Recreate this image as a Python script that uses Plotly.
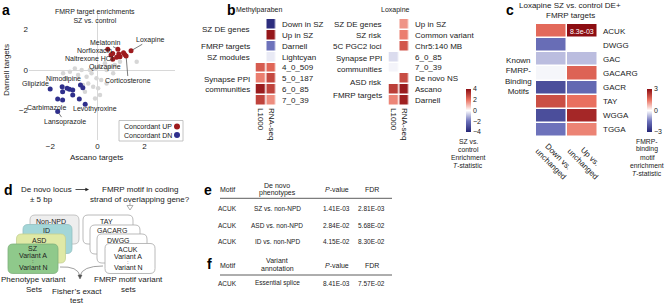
import plotly.graph_objects as go

W, H = 668, 305
FONT = "Liberation Sans, Arial, sans-serif"
INK = "#222222"


def X(p):
    return p / W


def Y(p):
    return 1 - p / H


# ---------------- Panel a data ----------------
up_x = [0.44, 0.65, 0.87, 0.91, 1.11, 1.16, 1.22, 1.43, 0.65, 0.82, 0.96, 0.58]
up_y = [1.02, 0.82, 1.03, 0.79, 0.85, 0.77, 0.69, 0.95, 0.53, 0.63, 0.66, 0.74]
dn_x = [-2.01, -1.50, -1.48, -1.29, -1.19, -1.05, -0.72, -0.62, -1.69, -1.48, -1.05, -0.77, -0.52, -1.69]
dn_y = [-0.94, -0.82, -1.07, -0.90, -0.95, -0.99, -0.74, -0.87, -1.43, -1.48, -1.23, -1.43, -1.69, -2.05]
bg_x = [-1.46, -1.17, -0.82, -0.46, -0.25, -0.04, 0.16, -0.39, -0.61, -0.18, 0.03, -0.53, 0.39, 0.53,
        0.74, 0.32, 0.96, 1.67, 0.11, -0.10, -0.32, -0.67, -0.96, -1.33, 0.39, 0.67, 0.11, -0.10]
bg_y = [-0.16, -0.08, -0.25, -0.33, -0.16, -0.41, -0.49, -0.66, -0.74, -0.82, -0.90, -1.07, 0.00, 0.16,
        0.25, 0.33, 0.41, 0.41, 0.16, 0.08, 0.00, 0.00, 0.08, -0.41, -0.66, -0.16, -1.23, -1.40]
drug_names = ["Loxapine", "Melatonin", "Norfloxacin", "Naltrexone HCl", "Quizapine", "Corticosterone",
              "Nimodipine", "Glipizide", "Carbimazole", "Levothyroxine", "Lansoprazole"]
drug_x = [1.43, 0.87, 0.44, 0.65, 0.82, 1.22, -1.50, -2.01, -1.69, -0.52, -1.69]
drug_y = [0.95, 1.03, 1.02, 0.53, 0.63, 0.69, -0.82, -0.94, -1.43, -1.69, -2.05]
a_ticks = [-2, 0, 2]

# ---------------- Panel b data ----------------
b_cols = ["L1000", "RNA-seq"]
meth_groups = ["SZ DE genes", "FMRP targets", "SZ modules", "Synapse PPI<br>communities"]
meth_rows = ["Down in SZ", "Up in SZ", "Darnell", "Lightcyan", "4_0_509", "5_0_187", "6_0_85", "7_0_39"]
meth_l1000 = [None, None, None, None, 2.4, 1.8, 3.7, 2.9]
meth_rnaseq = [-3.8, 3.8, -2.0, -0.3, 2.2, 2.8, 2.9, 1.6]
lox_groups = ["SZ DE genes", "SZ risk", "5C PGC2 loci", "Synapse PPI", "communities", "ASD risk", "FMRP targets"]
lox_rows = ["Up in SZ", "Common variant", "Chr5:140 MB", "6_0_85", "7_0_39", "De novo NS", "Ascano", "Darnell"]
lox_l1000 = [None, None, None, -0.5, -0.15, None, 3.0, 1.7]
lox_rnaseq = [1.5, 1.8, 2.5, None, None, 2.7, 3.7, 3.6]
b_cbar_ticks = [4, 2, 0, -2, -4]

# ---------------- Panel c data ----------------
c_cols = ["Down vs.<br>unchanged", "Up vs.<br>unchanged"]
c_rows = ["ACUK", "DWGG", "GAC", "GACARG", "GACR", "TAY", "WGGA", "TGGA"]
c_down = [1.6, -1.6, -0.7, -0.1, -2.2, 2.0, -2.2, -1.5]
c_up = [3.0, 0.0, -0.7, 1.7, -1.7, 1.5, 2.6, 1.3]
c_note = "8.3e-03"
c_cbar_ticks = [3, 0, -3]

# ---------------- Panel e/f data ----------------
e_header = ["Motif", "De novo<br>phenotypes", "<i>P</i>-value", "FDR"]
e_motif = ["ACUK", "ACUK", "ACUK"]
e_pheno = ["SZ vs. non-NPD", "ASD vs. non-NPD", "ID vs. non-NPD"]
e_p = ["1.41E-03", "2.84E-02", "4.15E-02"]
e_fdr = ["2.81E-03", "5.68E-02", "8.30E-02"]
f_header = ["Motif", "Variant<br>annotation", "<i>P</i>-value", "FDR"]
f_motif = ["ACUK"]
f_annot = ["Essential splice"]
f_p = ["8.41E-03"]
f_fdr = ["7.57E-02"]

RED = "#9e1b1e"
BLUE = "#2f2f8c"
CS = [[0, "#252576"], [0.25, "#6d72bb"], [0.5, "#ffffff"], [0.75, "#e9705f"], [1, "#8c0d12"]]

fig = go.Figure()

# ---- panel a traces ----
fig.add_trace(go.Scatter(x=bg_x, y=bg_y, mode="markers", xaxis="x", yaxis="y",
                         marker=dict(size=4.5, color="#d6d6d6"), hoverinfo="skip"))
fig.add_trace(go.Scatter(x=up_x, y=up_y, mode="markers", xaxis="x", yaxis="y", name="Concordant UP",
                         marker=dict(size=5, color=RED)))
fig.add_trace(go.Scatter(x=dn_x, y=dn_y, mode="markers", xaxis="x", yaxis="y", name="Concordant DN",
                         marker=dict(size=5, color=BLUE)))

# ---- panel b heatmaps ----
rows_idx = list(range(8))
fig.add_trace(go.Heatmap(z=[[a, b] for a, b in zip(meth_l1000, meth_rnaseq)], x=[0, 1], y=rows_idx,
                         xaxis="x2", yaxis="y2", coloraxis="coloraxis", xgap=1.5, ygap=1.5,
                         hoverongaps=False))
fig.add_trace(go.Heatmap(z=[[a, b] for a, b in zip(lox_l1000, lox_rnaseq)], x=[0, 1], y=rows_idx,
                         xaxis="x3", yaxis="y3", coloraxis="coloraxis", xgap=1.5, ygap=1.5,
                         hoverongaps=False))
# ---- panel c heatmap ----
fig.add_trace(go.Heatmap(z=[[a, b] for a, b in zip(c_down, c_up)], x=[0, 1], y=rows_idx,
                         xaxis="x4", yaxis="y4", coloraxis="coloraxis2", xgap=1.5, ygap=1.5))

ann = []
shapes = []


def txt(x, y, s, size=8, xa="center", ya="middle", color=INK, bold=False, angle=0, **kw):
    if bold:
        s = "<b>" + s + "</b>"
    d = dict(x=X(x), y=Y(y), xref="paper", yref="paper", text=s, showarrow=False,
             xanchor=xa, yanchor=ya, font=dict(size=size, color=color, family=FONT),
             textangle=angle, borderpad=0)
    d.update(kw)
    ann.append(d)


# panel letters
txt(1, 1, "a", 14, "left", "top", "#000", True)
txt(226, 1, "b", 14, "left", "top", "#000", True)
txt(505, 1, "c", 14, "left", "top", "#000", True)
txt(3, 181, "d", 14, "left", "top", "#000", True)
txt(203, 181, "e", 14, "left", "top", "#000", True)
txt(206, 255, "f", 14, "left", "top", "#000", True)

# ---- panel a annotations ----
txt(95, 16.5, "FMRP target enrichments<br>SZ vs. control", 7)
txt(96, 157, "Ascano targets", 8)
txt(6, 70, "Darnell targets", 8, angle=-90)

label_offsets = {  # text centre offsets in px from the point, and whether a leader line is drawn
    "Loxapine": (19, -11, True), "Melatonin": (-12.5, -6.5, True), "Norfloxacin": (-13, 1.5, False),
    "Naltrexone HCl": (-23.5, -1, False), "Quizapine": (-12, 9.5, False),
    "Corticosterone": (2, 24, True), "Nimodipine": (1, -8, False), "Glipizide": (-15, -5, False),
    "Carbimazole": (-11, 8.7, False), "Levothyroxine": (10, 5, True), "Lansoprazole": (7, 10, True),
}
for nm, dx_, dy_ in zip(drug_names, drug_x, drug_y):
    ox, oy, line = label_offsets[nm]
    if line:
        ann.append(dict(x=dx_, y=dy_, xref="x", yref="y", text=nm, showarrow=True, ax=ox, ay=oy,
                        arrowhead=0, arrowwidth=0.7, arrowcolor="#444", standoff=2, borderpad=0,
                        font=dict(size=7, color=INK, family=FONT)))
    else:
        ann.append(dict(x=dx_, y=dy_, xref="x", yref="y", text=nm, showarrow=False, xshift=ox, yshift=-oy,
                        borderpad=0, font=dict(size=7, color=INK, family=FONT)))

# legend box
shapes.append(dict(type="rect", xref="paper", yref="paper", x0=X(119), x1=X(183), y0=Y(141), y1=Y(120.5),
                   line=dict(color="#b5b5b5", width=0.8), fillcolor="white", layer="above"))
txt(122.5, 126.5, "Concordant UP", 7, "left")
txt(122.5, 135, "Concordant DN", 7, "left")
for yy, col in ((126.5, RED), (135, BLUE)):
    shapes.append(dict(type="circle", xref="paper", yref="paper", x0=X(174), x1=X(180), y0=Y(yy + 3),
                       y1=Y(yy - 3), fillcolor=col, line=dict(width=0)))

# ---- panel b annotations ----
txt(259, 10, "Methylparaben", 7)
txt(395, 10, "Loxapine", 7)
for i, r in enumerate(meth_rows):
    ann.append(dict(x=X(280), y=i, xref="paper", yref="y2", text=r, showarrow=False, xanchor="left",
                    font=dict(size=8, color=INK, family=FONT)))
for i, r in enumerate(lox_rows):
    ann.append(dict(x=X(413), y=i, xref="paper", yref="y3", text=r, showarrow=False, xanchor="left",
                    font=dict(size=8, color=INK, family=FONT)))
meth_group_y = [0.5, 2, 3, 5.5]
for g, yy in zip(meth_groups, meth_group_y):
    ann.append(dict(x=X(252), y=yy, xref="paper", yref="y2", text=g, showarrow=False, xanchor="right",
                    align="right", font=dict(size=8, color=INK, family=FONT)))
lox_group_y = [0, 1, 2, 3.15, 4.15, 5.3, 6.5]
for g, yy in zip(lox_groups, lox_group_y):
    ann.append(dict(x=X(384), y=yy, xref="paper", yref="y3", text=g, showarrow=False, xanchor="right",
                    font=dict(size=8, color=INK, family=FONT)))
for k, s in enumerate(["SZ vs.", "control", "Enrichment", "<i>T</i>-statistic"]):
    txt(468, 141 + 8.1 * k, s, 6.8)

# ---- panel c annotations ----
txt(570, 5, "Loxapine SZ vs. control DE+", 8)
txt(570, 15.5, "FMRP targets", 8)
txt(518, 75.5, "Known<br>FMRP-<br>Binding<br>Motifs", 8)
for i, r in enumerate(c_rows):
    ann.append(dict(x=X(601), y=i, xref="paper", yref="y4", text=r, showarrow=False, xanchor="left",
                    font=dict(size=8, color=INK, family=FONT)))
ann.append(dict(x=1, y=0, xref="x4", yref="y4", text=c_note, showarrow=False,
                font=dict(size=7, color="white", family=FONT)))
for cx, s in zip([555, 587], c_cols):
    txt(cx, 160, s, 8, angle=45)
for k, s in enumerate(["FMRP-", "binding", "motif", "enrichment", "<i>T</i>-statistic"]):
    txt(647, 141 + 8.1 * k, s, 6.8)

# ---- panel d ----


def path(cmds):
    out = []
    for p in cmds:
        cmd = p[0]
        nums = p[1:]
        coords = []
        for j in range(0, len(nums), 2):
            coords.append("%.5f,%.5f" % (X(nums[j]), Y(nums[j + 1])))
        out.append((cmd + " " + " ".join(coords)).strip())
    return " ".join(out)


def rrect(x0, y0, x1, y1, r=5):
    return path([("M", x0 + r, y0), ("L", x1 - r, y0), ("Q", x1, y0, x1, y0 + r), ("L", x1, y1 - r),
                 ("Q", x1, y1, x1 - r, y1), ("L", x0 + r, y1), ("Q", x0, y1, x0, y1 - r), ("L", x0, y0 + r),
                 ("Q", x0, y0, x0 + r, y0), ("Z",)])


left_boxes = [(30, 215, 79, 244, "#eeeeee", "#b8b8b8"), (23, 224.5, 72, 253.5, "#a3d6d8", "#93c0c2"),
              (16.5, 234, 65.5, 263, "#dfe9a6", "#c4cf92"), (8, 244, 58, 273.5, "#8fc98b", "#7fb07c")]
for x0, y0, x1, y1, fc, lc in left_boxes:
    shapes.append(dict(type="path", xref="paper", yref="paper", path=rrect(x0, y0, x1, y1),
                       fillcolor=fc, line=dict(color=lc, width=0.8)))
right_boxes = [(83, 215, 133, 244), (90, 225, 140, 254), (97, 234, 147, 263), (105, 243.5, 155, 273.5)]
for x0, y0, x1, y1 in right_boxes:
    shapes.append(dict(type="path", xref="paper", yref="paper", path=rrect(x0, y0, x1, y1),
                       fillcolor="white", line=dict(color="#a8a8a8", width=0.8)))

txt(50.5, 221, "Non-NPD", 7)
txt(46.5, 230.5, "ID", 7)
txt(39, 240, "ASD", 7)
txt(33, 248.7, "SZ", 7)
txt(33, 255.3, "Variant A", 7)
txt(33, 261, ":", 6)
txt(33, 267, "Variant N", 7)
txt(106.5, 221.5, "TAY", 7)
txt(112, 230.7, "GACARG", 7)
txt(118.5, 240, "DWGG", 7)
txt(128, 249.3, "ACUK", 7)
txt(128, 256.5, "Variant A", 7)
txt(128, 262, ":", 6)
txt(128, 267.3, "Variant N", 7)

txt(20, 189.5, "De novo locus", 8, "left")
txt(41.5, 199.5, "± 5 bp", 8)
txt(140, 189.5, "FMRP motif in coding", 8)
txt(140, 199.5, "strand of overlapping gene?", 8)
ann.append(dict(x=X(89), y=Y(189.5), xref="paper", yref="paper", text="", showarrow=True, ax=-15, ay=0,
                arrowhead=2, arrowsize=0.9, arrowwidth=0.8, arrowcolor="#222"))
# hollow down arrow
shapes.append(dict(type="path", xref="paper", yref="paper",
                   path=path([("M", 130, 202.5), ("L", 130, 205.5)]), line=dict(color="#999", width=0.8)))
shapes.append(dict(type="path", xref="paper", yref="paper",
                   path=path([("M", 127, 205.5), ("L", 133, 205.5), ("L", 130, 210), ("Z",)]),
                   fillcolor="white", line=dict(color="#999", width=0.8)))
# curved arrows to Fisher's test
shapes.append(dict(type="path", xref="paper", yref="paper",
                   path=path([("M", 60, 267), ("Q", 78, 266, 80, 276)]), line=dict(color="#888", width=0.8)))
shapes.append(dict(type="path", xref="paper", yref="paper",
                   path=path([("M", 103, 266), ("Q", 82, 266, 80, 276)]), line=dict(color="#888", width=0.8)))
shapes.append(dict(type="path", xref="paper", yref="paper",
                   path=path([("M", 78, 275), ("L", 82, 275), ("L", 80, 279), ("Z",)]),
                   fillcolor="#555", line=dict(color="#555", width=0.5)))
txt(33.5, 279, "Phenotype variant", 8)
txt(33.5, 289, "Sets", 8)
txt(77, 291.5, "Fisher’s exact", 8)
txt(77, 300.5, "test", 8)
txt(128.5, 279, "FMRP motif variant", 8)
txt(128.5, 289, "sets", 8)

# ---- panel e/f tables ----
col_x = [227.5, 277, 336.5, 372]
for cx, h in zip(col_x, e_header):
    if "<br>" in h:
        a_, b_ = h.split("<br>")
        txt(cx, 185, a_, 7)
        txt(cx, 193.3, b_, 7)
    else:
        txt(cx, 189, h, 7)
shapes.append(dict(type="line", xref="paper", yref="paper", x0=X(220), x1=X(392), y0=Y(198.3), y1=Y(198.3),
                   line=dict(color="#333", width=0.8)))
e_row_y = [208.3, 225.7, 241.5]
for ry, m, ph, p, fd in zip(e_row_y, e_motif, e_pheno, e_p, e_fdr):
    txt(col_x[0], ry, m, 6.5)
    txt(col_x[1], ry, ph, 6.5)
    txt(col_x[2], ry, p, 6.5)
    txt(col_x[3], ry, fd, 6.5)
for cx, h in zip(col_x, f_header):
    if "<br>" in h:
        a_, b_ = h.split("<br>")
        txt(cx, 260, a_, 7)
        txt(cx, 268, b_, 7)
    else:
        txt(cx, 265, h, 7)
shapes.append(dict(type="line", xref="paper", yref="paper", x0=X(220), x1=X(392), y0=Y(275), y1=Y(275),
                   line=dict(color="#333", width=0.8)))
for m, an_, p, fd in zip(f_motif, f_annot, f_p, f_fdr):
    txt(col_x[0], 283.3, m, 6.5)
    txt(col_x[1], 283.3, an_, 6.5)
    txt(col_x[2], 283.3, p, 6.5)
    txt(col_x[3], 283.3, fd, 6.5)

# ---------------- layout ----------------
hidden = dict(showgrid=False, zeroline=False, showline=False, ticks="", showticklabels=False)


def hm_x(x0, x1, labels=None):
    d = dict(domain=[X(x0), X(x1)], range=[-0.5, 1.5], fixedrange=True, **hidden)
    if labels:
        d.update(showticklabels=True, tickvals=[0, 1], ticktext=labels, tickangle=90,
                 tickfont=dict(size=8, color=INK, family=FONT), ticklabelstandoff=1)
    return d


def hm_y(y0, y1, anchor):
    return dict(domain=[Y(y1), Y(y0)], range=[7.5, -0.5], anchor=anchor, fixedrange=True, **hidden)


fig.update_layout(
    width=W, height=H, margin=dict(l=0, r=0, t=0, b=0, autoexpand=False),
    paper_bgcolor="white", plot_bgcolor="rgba(0,0,0,0)", showlegend=False,
    font=dict(family=FONT, color=INK),
    xaxis=dict(domain=[X(29), X(175)], range=[-2.91, 3.3], tickvals=a_ticks, showgrid=False,
               zeroline=True, zerolinecolor="#d8d8d8", zerolinewidth=1, showline=False, ticks="",
               tickfont=dict(size=8, color=INK), anchor="y"),
    yaxis=dict(domain=[Y(140), Y(10)], range=[-3.45, 2.96], tickvals=a_ticks, showgrid=False,
               zeroline=True, zerolinecolor="#d8d8d8", zerolinewidth=1, showline=False, ticks="",
               tickfont=dict(size=8, color=INK), anchor="x"),
    xaxis2=dict(anchor="y2", **hm_x(255.5, 276.5, b_cols)),
    yaxis2=hm_y(19, 106, "x2"),
    xaxis3=dict(anchor="y3", **hm_x(388.5, 409.5, b_cols)),
    yaxis3=hm_y(19, 106, "x3"),
    xaxis4=dict(anchor="y4", **hm_x(536, 597.5)),
    yaxis4=hm_y(24, 137, "x4"),
    coloraxis=dict(colorscale=CS, cmin=-4, cmax=4,
                   colorbar=dict(thickness=5, len=43, lenmode="pixels", x=X(466), xanchor="left",
                                 y=Y(89), yanchor="top", xpad=0, ypad=0, outlinewidth=0,
                                 tickvals=b_cbar_ticks, ticks="", tickfont=dict(size=7, color=INK))),
    coloraxis2=dict(colorscale=CS, cmin=-3, cmax=3,
                    colorbar=dict(thickness=5, len=43, lenmode="pixels", x=X(647), xanchor="left",
                                  y=Y(89), yanchor="top", xpad=0, ypad=0, outlinewidth=0,
                                  tickvals=c_cbar_ticks, ticks="", tickfont=dict(size=7, color=INK))),
    annotations=ann, shapes=shapes,
)

fig.write_html(
    "out.html",
    config={"displayModeBar": False, "staticPlot": True},
    post_script="document.body.style.margin='0';document.body.style.overflow='hidden';"
                "document.documentElement.style.overflow='hidden';",
)
